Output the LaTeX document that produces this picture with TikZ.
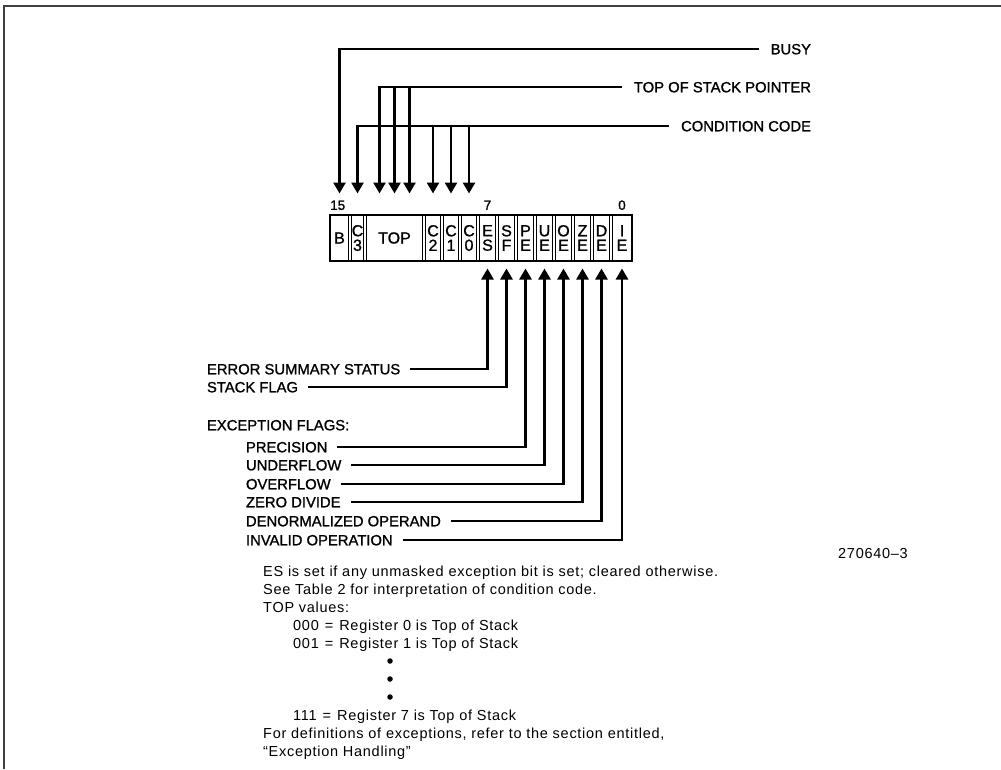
\documentclass[tikz,border=0pt]{standalone}
\usepackage{fontspec}
\setmainfont{Liberation Sans}
\newfontfamily\notefont[LetterSpace=5]{Liberation Sans}
\newfontfamily\lblfont[FakeBold=1.2]{Liberation Sans}
\usetikzlibrary{arrows.meta,fit,calc}
\begin{document}
\begin{tikzpicture}[x=1pt,y=-1pt,
 wire/.style={line width=2.6pt},
 arr/.style={wire,-{Triangle[length=11pt,width=12pt]}},
 lbl/.style={font=\lblfont\fontsize{14.8}{16}\selectfont,inner sep=0pt,outer sep=0pt,text height=10.6pt,text depth=0pt},
 cell/.style={draw,line width=1.3pt,inner sep=0pt,outer sep=0pt,minimum height=45pt,font=\lblfont\fontsize{16}{14.5}\selectfont,align=center},
 note/.style={font=\notefont\fontsize{14.5}{18}\selectfont,inner sep=0pt,anchor=base west},
 bitno/.style={font=\lblfont\fontsize{13.5}{13.5}\selectfont,inner sep=0pt,text height=9.7pt,text depth=0pt},
 dotmark/.style={circle,fill,inner sep=0pt,minimum size=5.5pt}
]
\useasboundingbox (0,0) rectangle (1001,769);
% frame
\draw[line width=1.5pt,black!75] (4,769) -- (4,6) -- (1001,6);

% register cells
\node[cell,minimum width=18.2pt] (b)   at (339.5,238) {B};
\node[cell,minimum width=12.2pt] (c3)  at (357.5,238) {C\\3};
\node[cell,minimum width=56.2pt] (top) at (394.5,238) {TOP};
\node[cell,minimum width=15.2pt] (c2)  at (433,238) {C\\2};
\node[cell,minimum width=15.2pt] (c1)  at (451,238) {C\\1};
\node[cell,minimum width=15.2pt] (c0)  at (469,238) {C\\0};
\node[cell,minimum width=16.2pt] (es)  at (487.5,238) {E\\S};
\node[cell,minimum width=16.2pt] (sf)  at (506.5,238) {S\\F};
\node[cell,minimum width=16.2pt] (pe)  at (525.5,238) {P\\E};
\node[cell,minimum width=16.2pt] (ue)  at (544.5,238) {U\\E};
\node[cell,minimum width=16.2pt] (oe)  at (563.5,238) {O\\E};
\node[cell,minimum width=16.2pt] (ze)  at (582.5,238) {Z\\E};
\node[cell,minimum width=16.2pt] (de)  at (601.5,238) {D\\E};
\node[cell,minimum width=19.2pt] (ie)  at (622,238) {I\\E};
\node[draw,line width=1.8pt,inner sep=0.8pt,fit=(b)(ie)] (reg) {};

% bit numbers
\node[bitno,anchor=west] (n15) at (330,205) {15};
\node[bitno] (n7) at (487.5,205) {7};
\node[bitno] (n0) at (622,205) {0};

% top labels
\node[lbl,anchor=east] (busy) at (811,49) {BUSY};
\node[lbl,anchor=east] (tos) at (811,87) {TOP OF STACK POINTER};
\node[lbl,anchor=east] (cc) at (811,126) {CONDITION CODE};

\coordinate (t1) at ([xshift=-15pt]top.north);
\coordinate (t3) at ([xshift=15pt]top.north);

\draw[arr,shorten >=22pt] ([xshift=-12pt]busy.west) -| (b.north);
\draw[arr,shorten >=22pt] ([xshift=-12pt]tos.west) -| (t1);
\draw[arr,shorten >=22pt] (top.north |- tos.west) -- (top.north);
\draw[arr,shorten >=22pt] (t3 |- tos.west) -- (t3);
\draw[arr,shorten >=22pt] ([xshift=-12pt]cc.west) -| (c3.north);
\foreach \n in {c2,c1,c0}
  \draw[arr,shorten >=22pt] (\n.north |- cc.west) -- (\n.north);

% left labels
\node[lbl,anchor=west] (ess)  at (207,369) {ERROR SUMMARY STATUS};
\node[lbl,anchor=west] (sfl)  at (207,387) {STACK FLAG};
\node[lbl,anchor=west] (exc)  at (207,425) {EXCEPTION FLAGS:};
\node[lbl,anchor=west] (prec) at (246,447) {PRECISION};
\node[lbl,anchor=west] (undf) at (246,465) {UNDERFLOW};
\node[lbl,anchor=west] (ovf)  at (246,484) {OVERFLOW};
\node[lbl,anchor=west] (zdiv) at (246,502) {ZERO DIVIDE};
\node[lbl,anchor=west] (dnop) at (246,521) {DENORMALIZED OPERAND};
\node[lbl,anchor=west] (inv)  at (246,540) {INVALID OPERATION};

\draw[arr,shorten >=8pt] ([xshift=10pt]ess.east)  -| (es.south);
\draw[arr,shorten >=8pt] ([xshift=10pt]sfl.east)  -| (sf.south);
\draw[arr,shorten >=8pt] ([xshift=10pt]prec.east) -| (pe.south);
\draw[arr,shorten >=8pt] ([xshift=10pt]undf.east) -| (ue.south);
\draw[arr,shorten >=8pt] ([xshift=10pt]ovf.east)  -| (oe.south);
\draw[arr,shorten >=8pt] ([xshift=10pt]zdiv.east) -| (ze.south);
\draw[arr,shorten >=8pt] ([xshift=10pt]dnop.east) -| (de.south);
\draw[arr,shorten >=8pt] ([xshift=10pt]inv.east)  -| (ie.south);

% figure number
\node[note] (fignum) at (838,558) {270640–3};

% notes
\node[note] (l1) at (263,576) {ES is set if any unmasked exception bit is set; cleared otherwise.};
\node[note] (l2) at (263,594) {See Table 2 for interpretation of condition code.};
\node[note] (l3) at (263,612) {TOP values:};
\node[note] (l4) at (293,630) {000\hspace{6pt}=\hspace{6pt}Register 0 is Top of Stack};
\node[note] (l5) at (293,648) {001\hspace{6pt}=\hspace{6pt}Register 1 is Top of Stack};
\node[dotmark] (d1) at (390,661) {};
\node[dotmark] (d2) at (390,679) {};
\node[dotmark] (d3) at (390,697) {};
\node[note] (l6) at (293,720) {111\hspace{6pt}=\hspace{6pt}Register 7 is Top of Stack};
\node[note] (l7) at (263,738) {For definitions of exceptions, refer to the section entitled,};
\node[note] (l8) at (263,756) {“Exception Handling”};
\end{tikzpicture}
\end{document}
